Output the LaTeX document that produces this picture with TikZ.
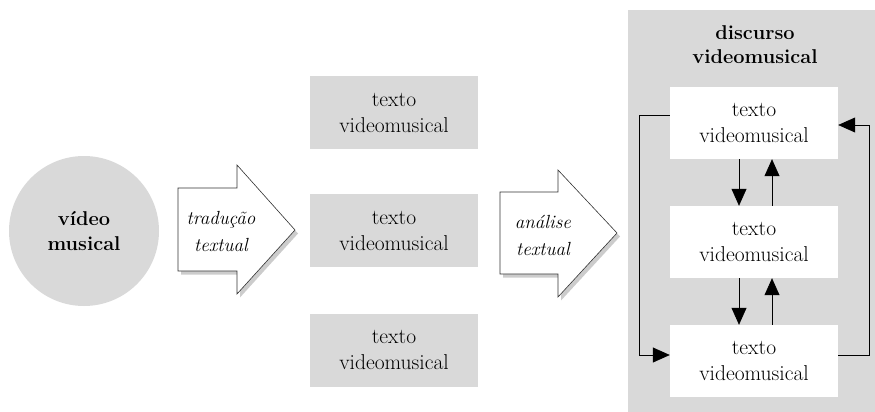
\documentclass[tikz,border=0pt]{standalone}
\usetikzlibrary{arrows.meta,shadows,calc}
\definecolor{boxgrey}{HTML}{D9D9D9}
\tikzset{
  mtxt/.style={font=\fontsize{21.5}{26}\selectfont, align=center, text=black},
  midbox/.style={mtxt, rectangle, fill=boxgrey, minimum width=168pt, minimum height=73pt, inner sep=0pt},
  whitebox/.style={mtxt, rectangle, fill=white, minimum width=168pt, minimum height=72pt, inner sep=0pt},
  bigarrow/.style={draw=black!80, line width=0.6pt, fill=white, line join=miter,
    drop shadow={opacity=0.4, shadow xshift=3pt, shadow yshift=-3.5pt}},
  itlbl/.style={font=\fontsize{19}{27}\selectfont\itshape, align=center},
  conn/.style={draw=black, line width=0.7pt, -{Triangle[length=17pt,width=15pt]}},
}
\begin{document}
\begin{tikzpicture}[x=1pt,y=-1pt]
\useasboundingbox (0,0) rectangle (875,412);
% circle
\node[circle, fill=boxgrey, minimum size=150pt, inner sep=0pt,
      font=\fontsize{20}{25}\selectfont\bfseries, align=center] (video) at (84,231) {vídeo\\musical};
% arrow 1
\path[bigarrow] (178,188) -- (237,188) -- (237,165) -- (295,230) -- (237,294) -- (237,271) -- (178,271) -- cycle;
\node[itlbl] (trad) at (221,231) {tradução\\textual};
% middle boxes
\node[midbox] (m1) at (394,112.5) {texto\\videomusical};
\node[midbox] (m2) at (394,230.5) {texto\\videomusical};
\node[midbox] (m3) at (394,350) {texto\\videomusical};
% arrow 2
\path[bigarrow] (500,192) -- (558,192) -- (558,170) -- (617,233) -- (558,297) -- (558,274) -- (500,274) -- cycle;
\node[itlbl] (anal) at (543,235) {análise\\textual};
% panel
\fill[boxgrey] (628,10) rectangle (875,412);
\node[font=\fontsize{20}{24}\selectfont\bfseries, align=center] (title) at (755,45) {discurso\\videomusical};
\node[whitebox] (A) at (754,123) {texto\\videomusical};
\node[whitebox] (B) at (754,242) {texto\\videomusical};
\node[whitebox] (C) at (754,361) {texto\\videomusical};
% vertical connectors
\draw[conn] ([xshift=-15pt]A.south) -- ([xshift=-15pt]B.north);
\draw[conn] ([xshift=18pt]B.north) -- ([xshift=18pt]A.south);
\draw[conn] ([xshift=-15pt]B.south) -- ([xshift=-15pt]C.north);
\draw[conn] ([xshift=18pt]C.north) -- ([xshift=18pt]B.south);
% loops
\draw[conn] ([yshift=8pt]A.west) -- ++(-30,0) |- ([yshift=6pt]C.west);
\draw[conn] ([yshift=6pt]C.east) -- ++(31,0) |- ([yshift=-2pt]A.east);
\end{tikzpicture}
\end{document}
